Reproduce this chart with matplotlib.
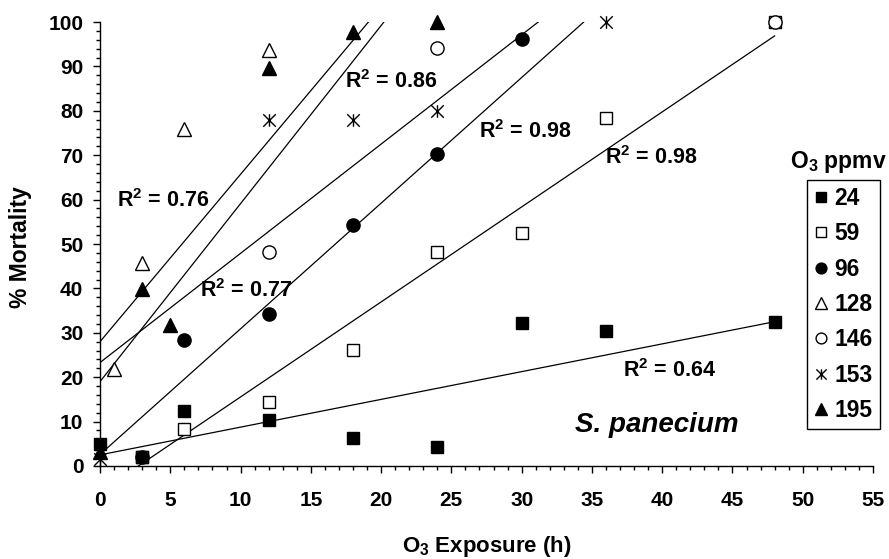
import numpy as np
import matplotlib
matplotlib.use('Agg')
import matplotlib.pyplot as plt
from matplotlib.path import Path
from matplotlib.lines import Line2D
from matplotlib.ticker import MultipleLocator

plt.rcParams['font.family'] = ['Liberation Sans', 'DejaVu Sans']
plt.rcParams['font.weight'] = 'bold'
plt.rcParams['mathtext.fontset'] = 'custom'
plt.rcParams['mathtext.rm'] = 'Liberation Sans:bold'
plt.rcParams['mathtext.bf'] = 'Liberation Sans:bold'
plt.rcParams['mathtext.it'] = 'Liberation Sans:bold:italic'
plt.rcParams['mathtext.default'] = 'bf'

# Mortality (%) vs O3 exposure (h), one series per O3 concentration (ppmv)
x24 = [0, 3, 6, 12, 18, 24, 30, 36, 48]
y24 = [5, 2, 12.3, 10.3, 6.2, 4.3, 32.2, 30.4, 32.4]
x59 = [3, 6, 12, 18, 24, 30, 36, 48]
y59 = [2, 8.3, 14.4, 26.2, 48.3, 52.5, 78.3, 100]
x96 = [3, 6, 12, 18, 24, 30]
y96 = [2, 28.4, 34.3, 54.2, 70.3, 96.1]
x128 = [1, 3, 6, 12]
y128 = [21.8, 45.8, 75.8, 93.8]
x146 = [12, 24, 48]
y146 = [48.3, 94.2, 100]
x153 = [0, 12, 18, 24, 36]
y153 = [1.5, 77.9, 77.9, 79.9, 100]
x195 = [0, 3, 5, 12, 18, 24]
y195 = [3.2, 39.8, 31.8, 89.6, 97.7, 100]

# linear trendlines (intercept, slope) and their R2 values
fit_intercept = [2.5, -5.85, 2.6, 28.0, 23.3, 19.0]
fit_slope = [0.625, 2.14, 2.83, 3.77, 2.46, 4.01]
fit_x0 = [0, 0, 0, 0, 0, 0]
fit_x1 = [48, 48, 48, 48, 48, 48]
r2_values = ['0.64', '0.98', '0.98', '0.76', '0.77', '0.86']

# asterisk marker: vertical bar + X
star = Path([(0, -1), (0, 1), (-1, -1), (1, 1), (-1, 1), (1, -1)],
            [Path.MOVETO, Path.LINETO, Path.MOVETO, Path.LINETO, Path.MOVETO, Path.LINETO])

series = [
    ('24', x24, y24, 's', 'black', 9),
    ('59', x59, y59, 's', 'white', 9),
    ('96', x96, y96, 'o', 'black', 9.5),
    ('128', x128, y128, '^', 'white', 10),
    ('146', x146, y146, 'o', 'white', 9.5),
    ('153', x153, y153, star, 'none', 9),
    ('195', x195, y195, '^', 'black', 10),
]

fig = plt.figure(figsize=(8.89, 5.59), dpi=100)
ax = fig.add_axes([0.1125, 0.1664, 0.8695, 0.7942])

for b, m, x0, x1 in zip(fit_intercept, fit_slope, fit_x0, fit_x1):
    xs = np.array([x0, x1])
    ax.plot(xs, b + m * xs, color='black', lw=0.9, zorder=2)

for name, xs, ys, mk, fc, ms in series:
    ax.plot(xs, ys, ls='none', marker=mk, ms=ms, mfc=fc, mec='black', mew=1.0,
            clip_on=False, zorder=3)

# R2 labels (x, baseline y)
r2_pos = [(37.2, 20.1), (35.9, 68.0), (27.0, 73.8), (1.2, 58.4), (7.1, 38.1), (17.4, 85.1)]
for (tx, ty), r2 in zip(r2_pos, r2_values):
    ax.text(tx, ty, r'R$^{2}$ = ' + r2, fontsize=15.5, fontweight='bold', va='baseline')

ax.text(33.8, 7.6, 'S. panecium', fontsize=20, fontweight='bold', style='italic', va='baseline')

ax.set_xlim(0, 55)
ax.set_ylim(0, 100)
ax.xaxis.set_major_locator(MultipleLocator(5))
ax.xaxis.set_minor_locator(MultipleLocator(1))
ax.yaxis.set_major_locator(MultipleLocator(10))
ax.yaxis.set_minor_locator(MultipleLocator(2))
ax.tick_params(which='major', direction='out', length=5, width=1, labelsize=15)
ax.tick_params(which='minor', direction='out', length=3, width=1)
ax.tick_params(axis='x', which='major', pad=13)
ax.tick_params(axis='y', which='major', pad=7)
for s in ['top', 'right']:
    ax.spines[s].set_visible(False)
for s in ['left', 'bottom']:
    ax.spines[s].set_linewidth(1)

ax.set_xlabel(r'O$_3$ Exposure (h)', fontsize=16, fontweight='bold')
ax.xaxis.set_label_coords(0.5, -0.182)
ax.xaxis.label.set_va('center')
ax.set_ylabel('% Mortality', fontsize=16.5, fontweight='bold')
ax.yaxis.set_label_coords(-0.1035, 0.493)
ax.yaxis.label.set_va('center')

handles = [Line2D([], [], ls='none', marker=mk, ms=ms * 0.82, mfc=fc, mec='black', mew=1.0)
           for name, xs, ys, mk, fc, ms in series]
labels = [s[0] for s in series]
leg = fig.legend(handles, labels, loc='upper left', bbox_to_anchor=(807 / 889, 1 - 180 / 559),
                 bbox_transform=fig.transFigure, frameon=True, fancybox=False, framealpha=1,
                 edgecolor='black', fontsize=16.5, handlelength=0.6, handletextpad=0.3,
                 labelspacing=0.54, borderpad=0.3, borderaxespad=0)
leg.get_frame().set_linewidth(1)
fig.text(838.5 / 889, 1 - 162 / 559, r'O$_3$ ppmv', fontsize=16.5, fontweight='bold',
         ha='center', va='center')

fig.savefig('out.png', dpi=100)
